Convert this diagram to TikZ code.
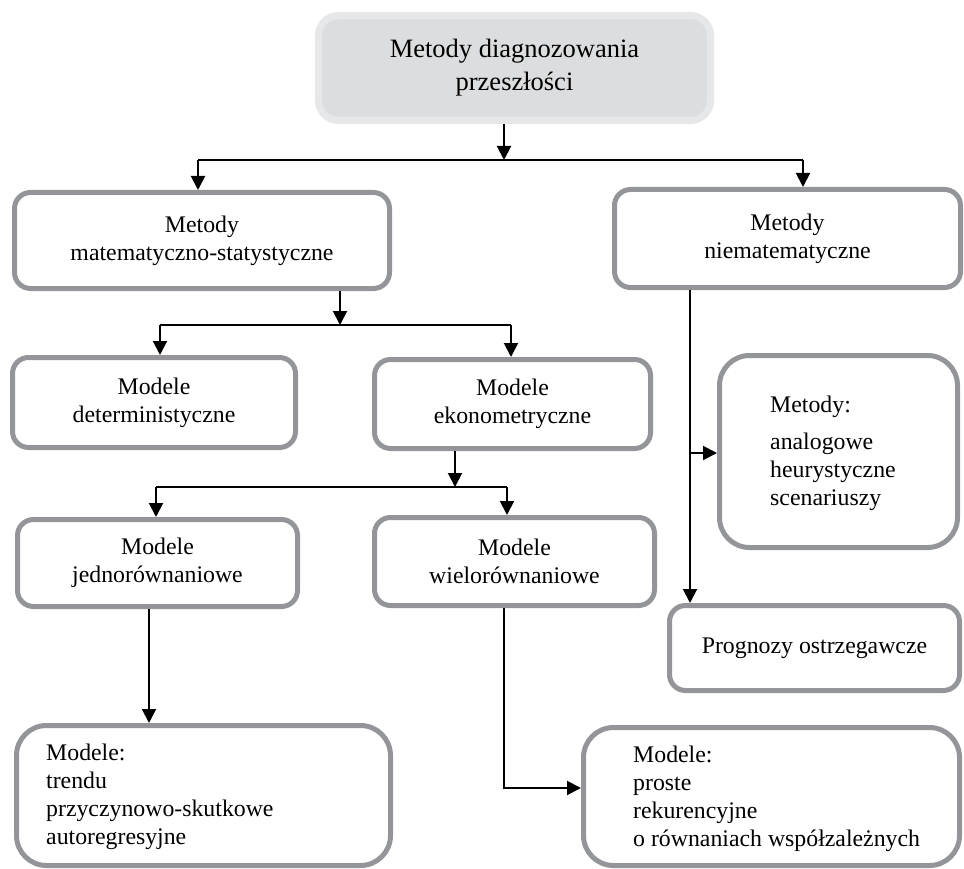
\documentclass[tikz,border=0pt]{standalone}
\usepackage{fontspec}
\setmainfont{Liberation Serif}
\usetikzlibrary{arrows.meta}
\definecolor{framegray}{HTML}{939598}
\definecolor{topframe}{HTML}{E6E7E8}
\definecolor{topfill}{HTML}{DCDDDE}
\tikzset{
    box/.style={draw=framegray, line width=5pt, rounded corners=16pt, align=center,
        inner sep=0pt, font=\fontsize{23.8}{28}\selectfont},
    listbox/.style={box, rounded corners=30pt},
    listtext/.style={anchor=west, align=left, inner sep=0pt, font=\fontsize{23.8}{28}\selectfont},
    arr/.style={-{Triangle[length=14pt,width=14pt]}, line width=2pt},
    conn/.style={line width=2pt},
}
\begin{document}
\begin{tikzpicture}[x=1pt,y=-1pt]
    \useasboundingbox (0,0) rectangle (964,869);
    \node[box, draw=topframe, fill=topfill, line width=7pt, rounded corners=20pt,
        minimum width=392pt, minimum height=105pt, font=\fontsize{26.5}{33}\selectfont]
        (top) at (514.5,68) {Metody diagnozowania\\przeszłości};
    \node[box, minimum width=375pt, minimum height=96pt] (matemat) at (202,240.5) {Metody\\matematyczno-statystyczne};
    \node[box, minimum width=346pt, minimum height=98pt] (niemat) at (787.5,238.5) {Metody\\niematematyczne};
    \node[box, minimum width=283pt, minimum height=90pt] (determ) at (154,402.5) {Modele\\deterministyczne};
    \node[box, minimum width=276pt, minimum height=89pt] (ekono) at (512.5,404) {Modele\\ekonometryczne};
    \node[listbox, minimum width=238pt, minimum height=192pt] (heur) at (838.5,451.5) {};
    \node[listtext] (heurtext) at ([xshift=53pt,yshift=-2pt]heur.west)
        {Metody:\\[9pt]analogowe\\heurystyczne\\scenariuszy};
    \node[box, minimum width=280pt, minimum height=87pt] (jedno) at (157.5,563) {Modele\\jednorównaniowe};
    \node[box, minimum width=280pt, minimum height=88pt] (wielo) at (514.5,561.5) {Modele\\wielorównaniowe};
    \node[box, minimum width=290pt, minimum height=85pt] (progn) at (814.5,648) {Prognozy ostrzegawcze};
    \node[listbox, minimum width=374pt, minimum height=140pt] (trend) at (203.5,795.5) {};
    \node[listtext] (trendtext) at ([xshift=32pt,yshift=-1pt]trend.west)
        {Modele:\\trendu\\przyczynowo-skutkowe\\autoregresyjne};
    \node[listbox, minimum width=376pt, minimum height=138pt] (proste) at (771.5,796.5) {};
    \node[listtext] (prostetext) at ([xshift=52pt,yshift=-2pt]proste.west)
        {Modele:\\proste\\rekurencyjne\\o równaniach współzależnych};

    \coordinate (j1) at (504,160);
    \coordinate (l1) at (198,160);
    \coordinate (r1) at (803,160);
    \draw[arr] (top.south -| j1) -- (j1);
    \draw[conn] (l1) -- (r1);
    \draw[arr] (l1) -- (l1 |- matemat.north);
    \draw[arr] (r1) -- (r1 |- niemat.north);

    \coordinate (j2) at (340,325);
    \coordinate (l2) at (160,325);
    \coordinate (r2) at (511,325);
    \draw[arr] (matemat.south -| j2) -- (j2);
    \draw[conn] (l2) -- (r2);
    \draw[arr] (l2) -- (l2 |- determ.north);
    \draw[arr] (r2) -- (r2 |- ekono.north);

    \coordinate (j3) at (455,487);
    \coordinate (l3) at (156,487);
    \coordinate (r3) at (507,487);
    \draw[arr] (ekono.south -| j3) -- (j3);
    \draw[conn] (l3) -- (r3);
    \draw[arr] (l3) -- (l3 |- jedno.north);
    \draw[arr] (r3) -- (r3 |- wielo.north);

    \coordinate (j4) at (149,0);
    \draw[arr] (jedno.south -| j4) -- (j4 |- trend.north);

    \coordinate (k) at (504,788);
    \draw[arr] (wielo.south -| k) -- (k) -- (k -| proste.west);

    \coordinate (n) at (690,453);
    \draw[arr] (niemat.south -| n) -- (n |- progn.north);
    \draw[arr] (n) -- (n -| heur.west);
\end{tikzpicture}
\end{document}
